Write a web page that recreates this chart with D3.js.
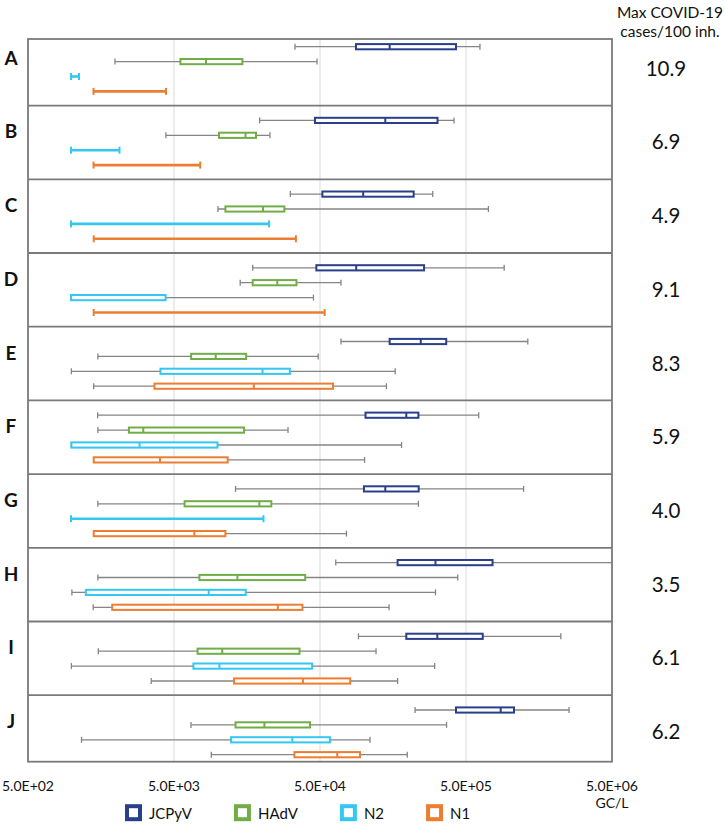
<!DOCTYPE html>
<html>
<head>
<meta charset="utf-8">
<script src="https://cdn.jsdelivr.net/npm/d3@7"></script>
<style>
  html, body { margin: 0; padding: 0; background: #fff; }
  svg { display: block; font-family: Lato, "Open Sans", sans-serif; }
</style>
</head>
<body>
<svg id="chart" width="725" height="824"></svg>
<script>
// ---------- data ----------
const panels = ["A", "B", "C", "D", "E", "F", "G", "H", "I", "J"];
const series = ["JCPyV", "HAdV", "N2", "N1"];
const covidMax = ["10.9", "6.9", "4.9", "9.1", "8.3", "5.9", "4.0", "3.5", "6.1", "6.2"];
const tickValues = [500, 5000, 50000, 500000, 5000000];
const tickLabels = ["5.0E+02", "5.0E+03", "5.0E+04", "5.0E+05", "5.0E+06"];
const unitLabel = "GC/L";
const headerLines = ["Max COVID-19", "cases/100 inh."];

// [min, q1, median, q3, max] per panel (GC/L); null box = range only
const jcpyv = [
  [33700, 88200, 150000, 427000, 623000],
  [19300, 46200, 140000, 319000, 414000],
  [31300, 51900, 98800, 219000, 296000],
  [17300, 47200, 88500, 258000, 913000],
  [69600, 150000, 245000, 366000, 1325000],
  [1500, 102500, 195000, 236000, 611000],
  [13200, 100000, 140000, 237000, 1240000],
  [64100, 170000, 309000, 760000, 5000000],
  [91700, 195000, 318000, 651000, 2230000],
  [224000, 427000, 864000, 1066000, 2540000]
];
const hadv = [
  [1970, 5530, 8280, 14700, 47700],
  [4400, 10170, 15440, 18220, 22700],
  [10000, 11250, 20350, 28500, 712000],
  [14200, 17300, 25500, 34500, 69600],
  [1505, 6550, 9650, 15600, 48600],
  [1505, 2456, 3080, 15100, 30200],
  [1505, 5910, 19200, 23200, 236000],
  [1505, 7465, 13600, 39600, 439000],
  [1515, 7255, 10700, 36200, 121000],
  [6535, 13200, 20800, 42700, 368000]
];
const n2 = [
  [985, null, null, null, 1118],
  [985, null, null, null, 2117],
  [985, null, null, null, 22400],
  [985, 985, 985, 4380, 45100],
  [991, 4040, 20200, 31100, 163700],
  [991, 991, 2906, 9930, 181000],
  [985, null, null, null, 20500],
  [999, 1244, 8645, 15500, 309000],
  [991, 6790, 10230, 44200, 305000],
  [1163, 12300, 32300, 58500, 110000]
];
const n1 = [
  [1405, null, null, null, 4408],
  [1405, null, null, null, 7560],
  [1409, null, null, null, 34200],
  [1409, null, null, null, 53800],
  [1409, 3676, 17600, 61400, 142500],
  [1409, 1409, 4010, 11660, 101000],
  [1409, 1409, 6890, 11250, 75900],
  [1398, 1887, 25700, 37900, 148700],
  [3490, 12900, 38200, 80500, 170000],
  [9005, 33400, 65600, 94000, 198000]
];
const seriesData = { JCPyV: jcpyv, HAdV: hadv, N2: n2, N1: n1 };

// ---------- styles ----------
const colors = { JCPyV: "#2a3f8a", HAdV: "#70ad47", N2: "#33c7f2", N1: "#ed7d31" };
const whiskerColor = "#858585";
const frameColor = "#7a7a7a";
const gridColor = "#d9d9d9";

// ---------- scales ----------
const svg = d3.select("#chart");
const x = d3.scaleLog().domain([500, 5000000]).range([28, 612]);
const step = 73.7;
const y = d3.scaleBand().domain(panels).range([31.9, 31.9 + step * panels.length]).padding(0);
const row = d3.scalePoint().domain(series).range([14.8, 59.5]);

const frameTop = y("A") + row("JCPyV") - 7.7;
const frameBottom = y("J") + row("N1") + 7;

// gridlines
svg.append("g").selectAll("line")
  .data(tickValues.slice(1, -1))
  .join("line")
  .attr("x1", d => x(d)).attr("x2", d => x(d))
  .attr("y1", frameTop).attr("y2", frameBottom)
  .attr("stroke", gridColor).attr("stroke-width", 1);

// panel frame + dividers
svg.append("rect")
  .attr("x", x(500)).attr("y", frameTop)
  .attr("width", x(5000000) - x(500)).attr("height", frameBottom - frameTop)
  .attr("fill", "none").attr("stroke", frameColor).attr("stroke-width", 1.8);
svg.append("g").selectAll("line")
  .data(panels.slice(1))
  .join("line")
  .attr("x1", x(500)).attr("x2", x(5000000))
  .attr("y1", d => y(d)).attr("y2", d => y(d))
  .attr("stroke", frameColor).attr("stroke-width", 1.8);

// boxes
const marks = svg.append("g");
panels.forEach((p, i) => {
  series.forEach(s => {
    const [mn, q1, md, q3, mx] = seriesData[s][i];
    const cy = y(p) + row(s);
    const g = marks.append("g");
    if (q1 === null) {
      g.append("line").attr("x1", x(mn)).attr("x2", x(mx)).attr("y1", cy).attr("y2", cy)
        .attr("stroke", colors[s]).attr("stroke-width", 2.6);
      [mn, mx].forEach(v => g.append("line").attr("x1", x(v)).attr("x2", x(v))
        .attr("y1", cy - 3.5).attr("y2", cy + 3.5)
        .attr("stroke", colors[s]).attr("stroke-width", 2));
    } else {
      g.append("line").attr("x1", x(mn)).attr("x2", x(mx)).attr("y1", cy).attr("y2", cy)
        .attr("stroke", whiskerColor).attr("stroke-width", 1.3);
      [mn, mx].forEach(v => g.append("line").attr("x1", x(v)).attr("x2", x(v))
        .attr("y1", cy - 3).attr("y2", cy + 3)
        .attr("stroke", whiskerColor).attr("stroke-width", 1.3));
      g.append("rect").attr("x", x(q1)).attr("y", cy - 2.6)
        .attr("width", Math.max(0, x(q3) - x(q1))).attr("height", 5.2)
        .attr("fill", "#fff").attr("stroke", colors[s]).attr("stroke-width", 2);
      g.append("line").attr("x1", x(md)).attr("x2", x(md))
        .attr("y1", cy - 2.6).attr("y2", cy + 2.6)
        .attr("stroke", colors[s]).attr("stroke-width", 2);
    }
  });
});

// panel letters
svg.append("g").selectAll("text")
  .data(panels)
  .join("text")
  .attr("x", 11).attr("y", d => y(d) + row("JCPyV") + 10.5)
  .attr("text-anchor", "middle").attr("dominant-baseline", "central")
  .attr("font-size", 19).attr("font-weight", 700).attr("fill", "#111")
  .text(d => d);

// covid values
svg.append("g").selectAll("text")
  .data(panels)
  .join("text")
  .attr("x", 666).attr("y", (d, i) => y(d) + row("JCPyV") + 21)
  .attr("text-anchor", "middle").attr("dominant-baseline", "central")
  .attr("font-size", 20.5).attr("fill", "#111")
  .text((d, i) => covidMax[i]);

// header
svg.append("g").selectAll("text")
  .data(headerLines)
  .join("text")
  .attr("x", 670).attr("y", (d, i) => 12 + i * 19)
  .attr("text-anchor", "middle").attr("dominant-baseline", "central")
  .attr("font-size", 15.5).attr("fill", "#111")
  .text(d => d);

// x axis labels
svg.append("g").selectAll("text")
  .data(tickValues)
  .join("text")
  .attr("x", d => x(d)).attr("y", 785)
  .attr("text-anchor", "middle").attr("dominant-baseline", "central")
  .attr("font-size", 14).attr("fill", "#111")
  .text((d, i) => tickLabels[i]);
svg.append("text")
  .attr("x", x(5000000)).attr("y", 802)
  .attr("text-anchor", "middle").attr("dominant-baseline", "central")
  .attr("font-size", 14).attr("fill", "#111")
  .text(unitLabel);

// legend
const legend = svg.append("g");
let lx = 127;
series.forEach(s => {
  const it = legend.append("g");
  it.append("rect").attr("x", lx).attr("y", 806.2).attr("width", 13).attr("height", 13)
    .attr("fill", "#fff").attr("stroke", colors[s]).attr("stroke-width", 4);
  const t = it.append("text").attr("x", lx + 22).attr("y", 812.7)
    .attr("dominant-baseline", "central").attr("font-size", 15).attr("fill", "#111").text(s);
  lx += 22 + t.node().getComputedTextLength() + 44;
});
</script>
</body>
</html>
